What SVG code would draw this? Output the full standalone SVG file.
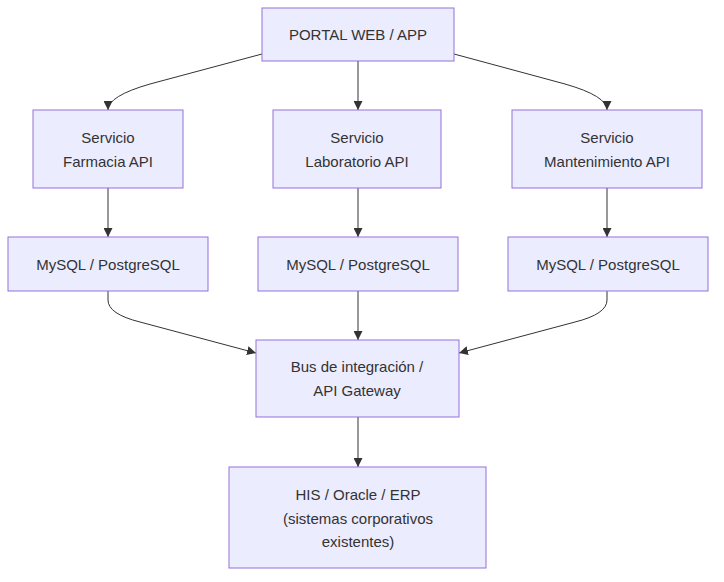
<svg xmlns="http://www.w3.org/2000/svg" width="724" height="582" viewBox="0 0 724 582">
<defs>
<style>
.node rect{fill:#ECECFF;stroke:#9370DB;stroke-width:1}
.node text{font-family:"Liberation Sans",Arial,sans-serif;font-size:15px;fill:#333;text-anchor:middle;dominant-baseline:central}
.edges path{fill:none;stroke:#333;stroke-width:1}
</style>
<marker id="arr" viewBox="0 0 10 10" refX="10" refY="5" markerWidth="9" markerHeight="9" orient="auto" markerUnits="userSpaceOnUse">
<path d="M0,0 L10,5 L0,10 z" fill="#333"/>
</marker>
</defs>
<rect width="724" height="582" fill="#fff"/>
<g class="edges">
<path d="M262,54 L150,84 Q108,96 108,110" marker-end="url(#arr)"/>
<path d="M358,61 L358,110" marker-end="url(#arr)"/>
<path d="M454,54 L565,84 Q607,96 607,110" marker-end="url(#arr)"/>
<path d="M108,188 L108,237" marker-end="url(#arr)"/>
<path d="M358,188 L358,237" marker-end="url(#arr)"/>
<path d="M607,188 L607,237" marker-end="url(#arr)"/>
<path d="M108,291 L108,300 Q108,314 140,322 L256,353" marker-end="url(#arr)"/>
<path d="M358,291 L358,340" marker-end="url(#arr)"/>
<path d="M607,291 L607,300 Q607,314 575,322 L459,353" marker-end="url(#arr)"/>
<path d="M358,417 L358,467" marker-end="url(#arr)"/>
</g>
<g id="portal" class="node"><rect x="262" y="8" width="192" height="53"/><text x="358" y="34">PORTAL WEB / APP</text></g>
<g id="farmacia" class="node"><rect x="33" y="110" width="150" height="78"/><text x="108" y="137">Servicio</text><text x="108" y="161">Farmacia API</text></g>
<g id="laboratorio" class="node"><rect x="273" y="110" width="168" height="78"/><text x="357" y="137">Servicio</text><text x="357" y="161">Laboratorio API</text></g>
<g id="mantenimiento" class="node"><rect x="512" y="110" width="190" height="78"/><text x="607" y="137">Servicio</text><text x="607" y="161">Mantenimiento API</text></g>
<g id="db1" class="node"><rect x="8" y="237" width="200" height="54"/><text x="108" y="264">MySQL / PostgreSQL</text></g>
<g id="db2" class="node"><rect x="258" y="237" width="200" height="54"/><text x="358" y="264">MySQL / PostgreSQL</text></g>
<g id="db3" class="node"><rect x="508" y="237" width="200" height="54"/><text x="608" y="264">MySQL / PostgreSQL</text></g>
<g id="bus" class="node"><rect x="256" y="340" width="203" height="77"/><text x="357" y="366">Bus de integración /</text><text x="357" y="390">API Gateway</text></g>
<g id="his" class="node"><rect x="229" y="467" width="257" height="101"/><text x="358" y="494">HIS / Oracle / ERP</text><text x="358" y="518">(sistemas corporativos</text><text x="358" y="541">existentes)</text></g>
</svg>
